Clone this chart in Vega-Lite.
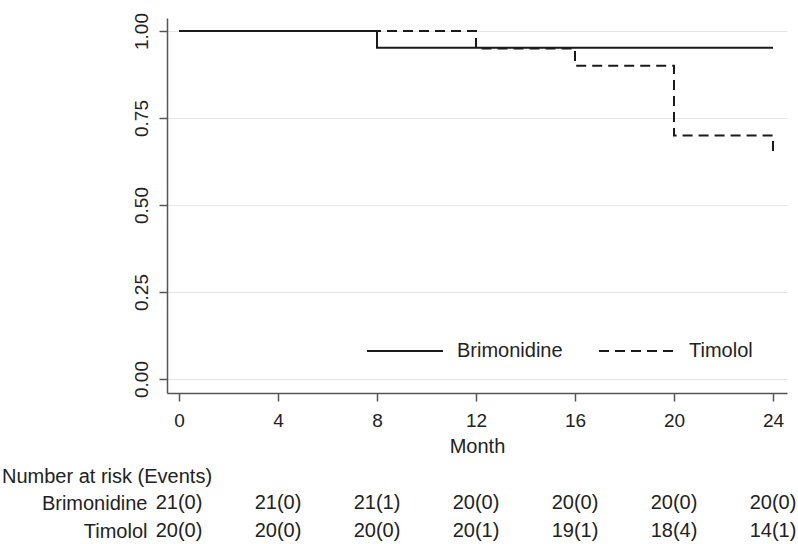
{
  "$schema": "https://vega.github.io/schema/vega-lite/v6.json",
  "padding": {"left": 2, "top": 12, "right": 0, "bottom": 0},
  "background": "white",
  "spacing": 11,
  "config": {
    "font": "Liberation Sans",
    "view": {"stroke": null},
    "text": {"font": "Liberation Sans"}
  },
  "datasets": {
    "km": [
      {"group": "Brimonidine", "month": 0, "surv": 1.0},
      {"group": "Brimonidine", "month": 8, "surv": 0.952},
      {"group": "Brimonidine", "month": 24, "surv": 0.952},
      {"group": "Timolol", "month": 0, "surv": 1.0},
      {"group": "Timolol", "month": 12, "surv": 0.95},
      {"group": "Timolol", "month": 16, "surv": 0.90},
      {"group": "Timolol", "month": 20, "surv": 0.70},
      {"group": "Timolol", "month": 24, "surv": 0.65}
    ],
    "risk": [
      {"group": "Brimonidine", "month": 0, "label": "21(0)"},
      {"group": "Brimonidine", "month": 4, "label": "21(0)"},
      {"group": "Brimonidine", "month": 8, "label": "21(1)"},
      {"group": "Brimonidine", "month": 12, "label": "20(0)"},
      {"group": "Brimonidine", "month": 16, "label": "20(0)"},
      {"group": "Brimonidine", "month": 20, "label": "20(0)"},
      {"group": "Brimonidine", "month": 24, "label": "20(0)"},
      {"group": "Timolol", "month": 0, "label": "20(0)"},
      {"group": "Timolol", "month": 4, "label": "20(0)"},
      {"group": "Timolol", "month": 8, "label": "20(0)"},
      {"group": "Timolol", "month": 12, "label": "20(1)"},
      {"group": "Timolol", "month": 16, "label": "19(1)"},
      {"group": "Timolol", "month": 20, "label": "18(4)"},
      {"group": "Timolol", "month": 24, "label": "14(1)"}
    ]
  },
  "vconcat": [
    {
      "width": 620,
      "height": 375,
      "data": {"name": "km"},
      "mark": {"type": "line", "interpolate": "step-after", "strokeWidth": 2, "color": "#1a1a1a"},
      "encoding": {
        "x": {
          "field": "month", "type": "quantitative",
          "scale": {"domain": [-0.485, 24.566], "nice": false, "zero": false},
          "axis": {
            "values": [0, 4, 8, 12, 16, 20, 24], "grid": false,
            "domainColor": "#555", "domainWidth": 1.5,
            "tickColor": "#555", "tickWidth": 1.5, "tickSize": 8,
            "labelFontSize": 19, "labelColor": "#222", "labelPadding": 10,
            "title": "Month", "titleFontSize": 20, "titleFontWeight": "normal",
            "titleColor": "#222", "titlePadding": 6
          }
        },
        "y": {
          "field": "surv", "type": "quantitative",
          "scale": {"domain": [-0.0402, 1.0374], "nice": false, "zero": false},
          "axis": {
            "values": [0, 0.25, 0.5, 0.75, 1], "format": ".2f",
            "grid": true, "gridColor": "#e6e6e6", "gridWidth": 1,
            "domainColor": "#555", "domainWidth": 1.5,
            "tickColor": "#555", "tickWidth": 1.5, "tickSize": 8,
            "labelAngle": -90, "labelAlign": "center", "labelBaseline": "alphabetic",
            "labelFontSize": 19, "labelColor": "#222", "labelPadding": 12,
            "title": null
          }
        },
        "strokeDash": {
          "field": "group", "type": "nominal",
          "scale": {"domain": ["Brimonidine", "Timolol"], "range": [[1, 0], [10, 6]]},
          "legend": {
            "title": null, "orient": "none", "direction": "horizontal",
            "legendX": 199, "legendY": 294,
            "symbolType": "stroke", "symbolSize": 5776, "symbolStrokeWidth": 2,
            "symbolStrokeColor": "#1a1a1a",
            "labelFontSize": 20, "labelColor": "#222", "labelOffset": 13,
            "columnPadding": 32
          }
        }
      }
    },
    {
      "width": 620,
      "height": 56,
      "data": {"name": "risk"},
      "title": {
        "text": "Number at risk (Events)", "anchor": "start", "frame": "group",
        "fontSize": 20, "fontWeight": "normal", "color": "#222",
        "dx": -165, "offset": 2
      },
      "mark": {"type": "text", "fontSize": 20, "color": "#222", "dx": 0, "baseline": "middle"},
      "encoding": {
        "x": {
          "field": "month", "type": "quantitative",
          "scale": {"domain": [-0.485, 24.566], "nice": false, "zero": false},
          "axis": null
        },
        "y": {
          "field": "group", "type": "nominal",
          "sort": ["Brimonidine", "Timolol"],
          "axis": {
            "title": null, "domain": false, "ticks": false,
            "labelFontSize": 20, "labelColor": "#222", "labelPadding": 20
          }
        },
        "text": {"field": "label"}
      }
    }
  ]
}
